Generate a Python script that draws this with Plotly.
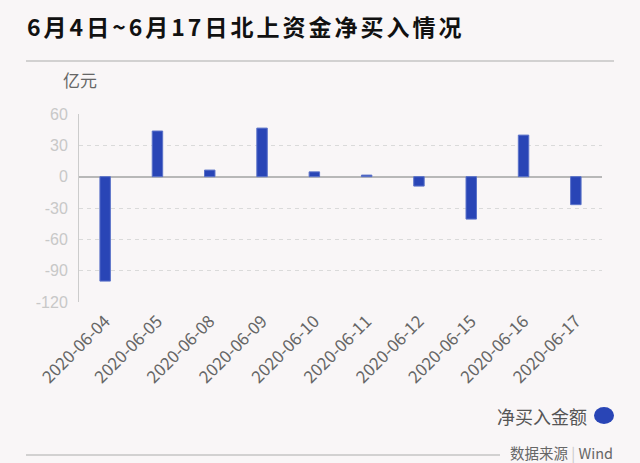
import plotly.graph_objects as go

dates = ["2020-06-04", "2020-06-05", "2020-06-08", "2020-06-09", "2020-06-10",
         "2020-06-11", "2020-06-12", "2020-06-15", "2020-06-16", "2020-06-17"]
net_buy = [-100.0, 43.7, 6.3, 46.5, 4.6, 1.5, -9.0, -40.6, 39.8, -26.8]
y_ticks = [60, 30, 0, -30, -60, -90, -120]
series_name = "净买入金额"
title_text = "6月4日~6月17日北上资金净买入情况"
unit_text = "亿元"
source_text = "数据来源 <span style='color:#c8c8c8'>|</span> Wind"

W, H = 640, 463
L, R, T, B = 79, 602, 114, 302
BG = "#f9f6f7"
BLUE = "#2945b6"
FONT = "Noto Sans CJK SC, Noto Sans, sans-serif"


def px(x):
    return (x - L) / (R - L)


def py(y):
    return (B - y) / (B - T)


fig = go.Figure()
fig.add_trace(go.Bar(
    x=dates, y=net_buy, name=series_name,
    marker=dict(color=BLUE, line=dict(color="#5b72c9", width=1)),
    showlegend=False,
))

fig.update_layout(
    width=W, height=H,
    margin=dict(l=L, r=W - R, t=T, b=H - B, pad=0),
    paper_bgcolor=BG, plot_bgcolor=BG,
    bargap=0.8,
    font=dict(family=FONT),
    xaxis=dict(
        type="category", tickangle=-45, showgrid=False, showline=False,
        zeroline=False, ticks="",
        tickfont=dict(size=17, color="#666666", family=FONT),
        ticklabelstandoff=5,
    ),
    yaxis=dict(
        range=[-120, 60], tickvals=y_ticks, ticktext=[str(v) for v in y_ticks],
        showgrid=True, gridcolor="#dadada", griddash="4px,4px", gridwidth=1,
        zeroline=True, zerolinecolor="#b8b8b8", zerolinewidth=1.5,
        showline=True, linecolor="#cccccc", linewidth=1, ticks="",
        tickfont=dict(size=16, color="#c8c8c8", family="Liberation Sans, Arial, sans-serif"),
        ticklabelstandoff=7,
    ),
    shapes=[
        dict(type="line", xref="paper", yref="paper", x0=px(26), x1=px(614),
             y0=py(61), y1=py(61), line=dict(color="#c4c4c4", width=1.5)),
        dict(type="line", xref="paper", yref="paper", x0=px(26), x1=px(500),
             y0=py(455), y1=py(455), line=dict(color="#c4c4c4", width=1.5)),
        dict(type="circle", xref="paper", yref="paper", x0=px(594), x1=px(614),
             y0=py(407), y1=py(424), fillcolor=BLUE, line=dict(width=0)),
    ],
    annotations=[
        dict(text=f"<span style='letter-spacing:3px'><b>{title_text}</b></span>",
             xref="paper", yref="paper",
             x=px(25), y=py(26), xanchor="left", yanchor="middle", showarrow=False,
             font=dict(size=23, color="#111111", family=FONT)),
        dict(text=unit_text, xref="paper", yref="paper",
             x=px(61), y=py(79), xanchor="left", yanchor="middle", showarrow=False,
             font=dict(size=17, color="#666666", family=FONT)),
        dict(text=series_name, xref="paper", yref="paper",
             x=px(589), y=py(416), xanchor="right", yanchor="middle", showarrow=False,
             font=dict(size=18, color="#555555", family=FONT)),
        dict(text=source_text, xref="paper", yref="paper",
             x=px(615), y=py(452), xanchor="right", yanchor="middle", showarrow=False,
             font=dict(size=14.5, color="#666666", family=FONT)),
    ],
)

fig.write_html("out.html")
